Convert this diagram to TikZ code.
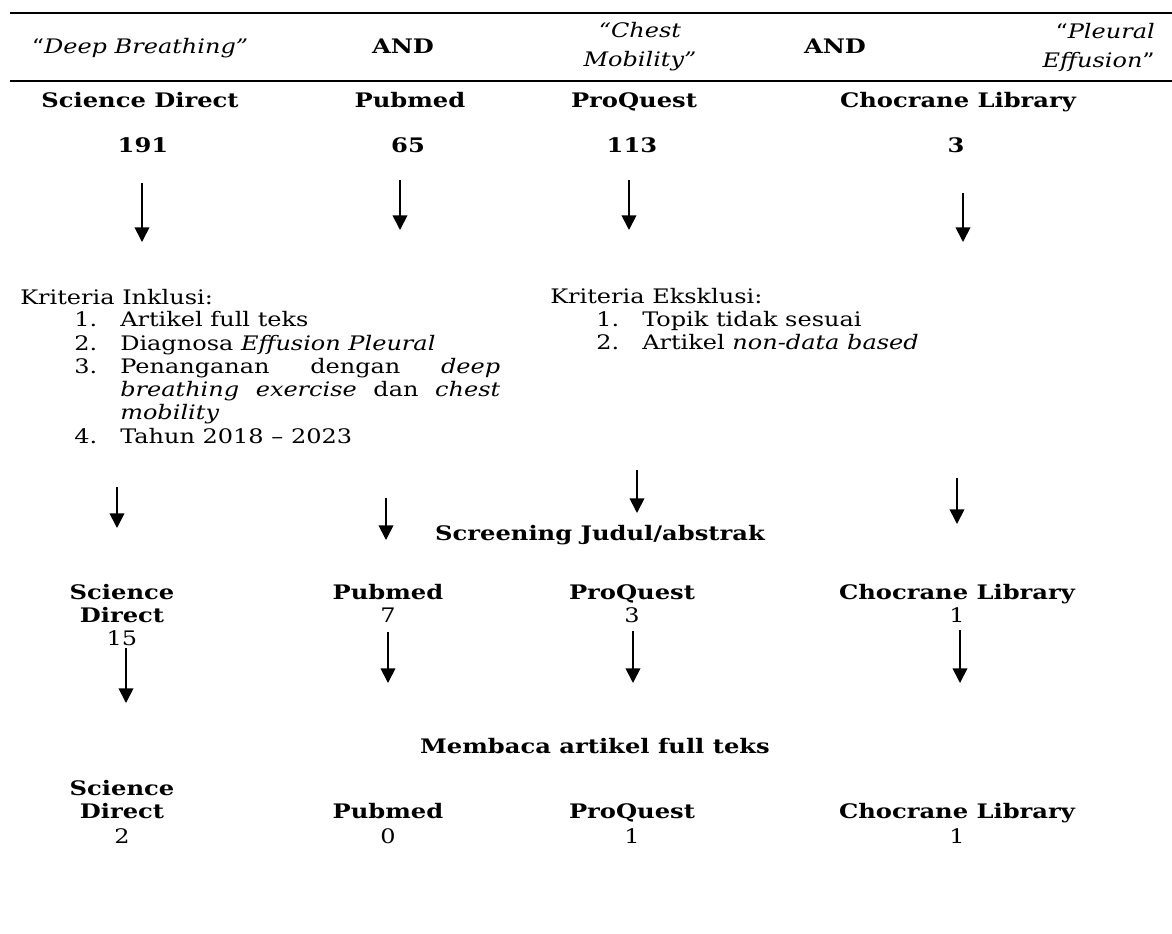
\documentclass[tikz,border=0pt]{standalone}
\usepackage{fontspec}
\setmainfont{DejaVu Serif}[FakeStretch=1.2, BoldFeatures={FakeStretch=1.21}]
\usetikzlibrary{arrows.meta}
\begin{document}
\begin{tikzpicture}[x=0.75pt,y=-0.75pt,
  txt/.style={inner sep=0pt, anchor=base, font=\fontsize{15}{18}\selectfont},
  hd/.style={inner sep=0pt, anchor=base, font=\fontsize{15}{18}\selectfont\bfseries},
  lft/.style={txt, anchor=base west},
  arr/.style={line width=1.3pt, -{Triangle[width=11pt,length=11pt]}},
  rule/.style={line width=1.5pt}]
\useasboundingbox (0,0) rectangle (1172,933);
% header rules
\coordinate (r1a) at (10,13); \coordinate (r1b) at (1172,13);
\coordinate (r2a) at (10,81); \coordinate (r2b) at (1172,81);
\draw[rule] (r1a) -- (r1b);
\draw[rule] (r2a) -- (r2b);
% header keywords
\node[txt] (k1) at (140,53) {“\textit{Deep Breathing”}};
\node[hd] (and1) at (403,53) {AND};
\node[inner sep=0pt, align=center, font=\fontsize{15}{21.75}\selectfont] (k2) at (640,47) {\textit{“Chest}\\\textit{Mobility”}};
\node[hd] (and2) at (835,53) {AND};
\node[inner sep=0pt, align=right, anchor=east, font=\fontsize{15}{21.75}\selectfont] (k3) at (1155,47) {“\textit{Pleural}\\\textit{Effusion}”};
% sources row
\node[hd] (s1) at (140,107) {Science Direct};
\node[hd] (s2) at (410,107) {Pubmed};
\node[hd] (s3) at (634,107) {ProQuest};
\node[hd] (s4) at (958,107) {Chocrane Library};
\node[hd] (n1) at (143,152) {191};
\node[hd] (n2) at (408,152) {65};
\node[hd] (n3) at (632,152) {113};
\node[hd] (n4) at (956,152) {3};
% arrows 1
\coordinate (a1s) at (142,183); \coordinate (a1e) at (142,242);
\coordinate (a2s) at (400,180); \coordinate (a2e) at (400,230);
\coordinate (a3s) at (629,180); \coordinate (a3e) at (629,230);
\coordinate (a4s) at (963,193); \coordinate (a4e) at (963,242);
\draw[arr] (a1s) -- (a1e);
\draw[arr] (a2s) -- (a2e);
\draw[arr] (a3s) -- (a3e);
\draw[arr] (a4s) -- (a4e);
% inclusion
\node[lft] (inc) at (20,304) {Kriteria Inklusi:};
\node[lft] (i1n) at (74,326) {1.};
\node[lft] (i1) at (120,326) {Artikel full teks};
\node[lft] (i2n) at (74,350) {2.};
\node[lft] (i2) at (120,350) {Diagnosa \textit{Effusion Pleural}};
\node[lft] (i3n) at (74,373) {3.};
\node[lft] (i3a) at (120,373) {\makebox[285pt][s]{Penanganan\hfill dengan\hfill \textit{deep}}};
\node[lft] (i3b) at (120,396) {\makebox[285pt][s]{\textit{breathing}\hfill\textit{exercise}\hfill dan\hfill\textit{chest}}};
\node[lft] (i3c) at (120,419) {\textit{mobility}};
\node[lft] (i4n) at (74,443) {4.};
\node[lft] (i4) at (120,443) {Tahun 2018 – 2023};
% exclusion
\node[lft] (exc) at (550,303) {Kriteria Eksklusi:};
\node[lft] (e1n) at (596,326) {1.};
\node[lft] (e1) at (642,326) {Topik tidak sesuai};
\node[lft] (e2n) at (596,349) {2.};
\node[lft] (e2) at (642,349) {Artikel \textit{non-data based}};
% arrows 2
\coordinate (b1s) at (117,487); \coordinate (b1e) at (117,528);
\coordinate (b2s) at (386,498); \coordinate (b2e) at (386,540);
\coordinate (b3s) at (637,470); \coordinate (b3e) at (637,513);
\coordinate (b4s) at (957,478); \coordinate (b4e) at (957,524);
\draw[arr] (b1s) -- (b1e);
\draw[arr] (b2s) -- (b2e);
\draw[arr] (b3s) -- (b3e);
\draw[arr] (b4s) -- (b4e);
\node[hd] (scr) at (600,540) {Screening Judul/abstrak};
% row 3
\node[hd] (t1a) at (122,599) {Science};
\node[hd] (t1b) at (122,622) {Direct};
\node[txt] (t1n) at (122,645) {15};
\node[hd] (t2) at (388,599) {Pubmed};
\node[txt] (t2n) at (388,622) {7};
\node[hd] (t3) at (632,599) {ProQuest};
\node[txt] (t3n) at (632,622) {3};
\node[hd] (t4) at (957,599) {Chocrane Library};
\node[txt] (t4n) at (957,622) {1};
% arrows 3
\coordinate (c1s) at (126,648); \coordinate (c1e) at (126,703);
\coordinate (c2s) at (388,632); \coordinate (c2e) at (388,683);
\coordinate (c3s) at (633,631); \coordinate (c3e) at (633,683);
\coordinate (c4s) at (960,630); \coordinate (c4e) at (960,683);
\draw[arr] (c1s) -- (c1e);
\draw[arr] (c2s) -- (c2e);
\draw[arr] (c3s) -- (c3e);
\draw[arr] (c4s) -- (c4e);
\node[hd] (mem) at (595,753) {Membaca artikel full teks};
% row 4
\node[hd] (u1a) at (122,795) {Science};
\node[hd] (u1b) at (122,818) {Direct};
\node[txt] (u1n) at (122,843) {2};
\node[hd] (u2) at (388,818) {Pubmed};
\node[txt] (u2n) at (388,843) {0};
\node[hd] (u3) at (632,818) {ProQuest};
\node[txt] (u3n) at (632,843) {1};
\node[hd] (u4) at (957,818) {Chocrane Library};
\node[txt] (u4n) at (957,843) {1};
\end{tikzpicture}
\end{document}
